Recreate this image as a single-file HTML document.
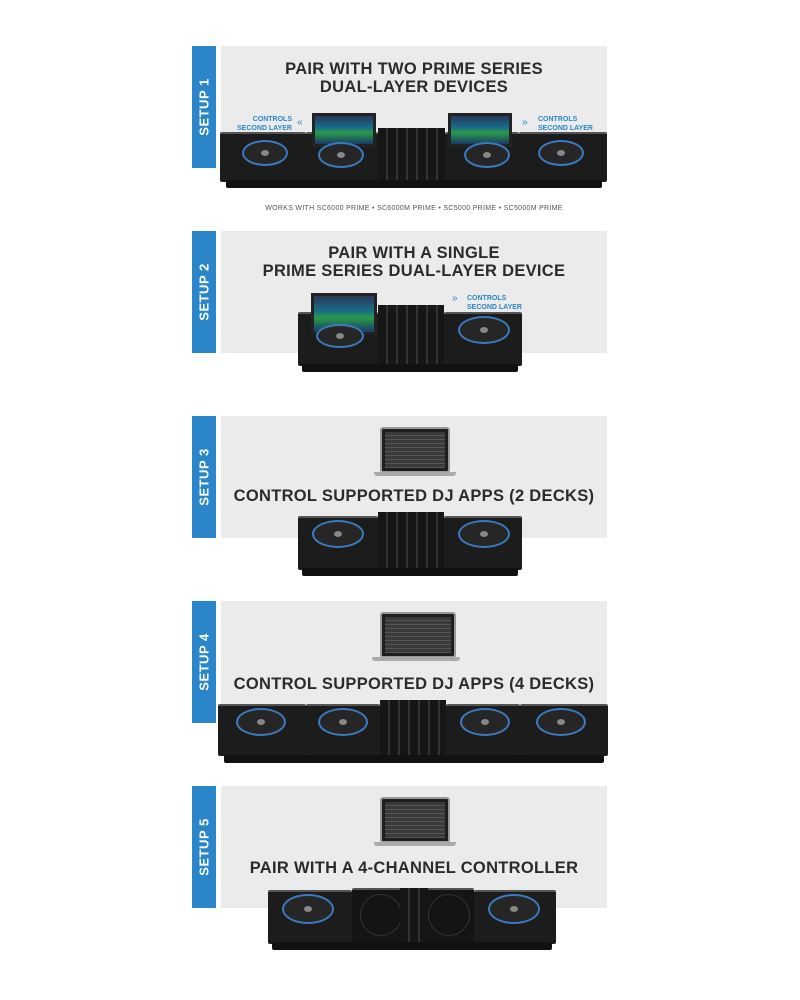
<!DOCTYPE html>
<html><head><style>
body{margin:0;width:800px;height:1000px;background:#fff;position:relative;overflow:hidden;font-family:"Liberation Sans",Arial,sans-serif}
.a{position:absolute}
.tab{position:absolute;left:192px;width:24px;height:122px;background:#2a86c8}
.tab span{position:absolute;left:50%;top:50%;transform:translate(-50%,-50%) rotate(-90deg);color:#fff;font-weight:bold;font-size:13px;white-space:nowrap;letter-spacing:.5px}
.pan{position:absolute;left:221px;width:386px;height:122px;background:#ebebeb}
.t{position:absolute;left:221px;width:386px;text-align:center;font-weight:bold;font-size:16.5px;color:#2b2b2b;line-height:18px;letter-spacing:.3px}
.dk{position:absolute;background:#1c1c1c;border-top:2px solid #555;border-radius:2px}
.pl{position:absolute;border-radius:50%;background:#262626;border:2px solid #3a7ac0;box-sizing:border-box}
.pl::after{content:"";position:absolute;left:50%;top:50%;width:8px;height:6px;margin:-3px 0 0 -4px;border-radius:50%;background:#888}
.ft{position:absolute;background:#111;height:8px;border-radius:2px}
.sc{position:absolute;background:linear-gradient(#2a3a5a,#1a6a8a 40%,#2a9a4a 60%,#1a3a6a);border:3px solid #222}
.mx{position:absolute;background:#161616;background-image:repeating-linear-gradient(90deg,#161616 0 8px,#333 8px 10px)}
.lap{position:absolute;background:#1e1e1e;border:2px solid #999;border-radius:3px}
.lap i{position:absolute;left:3px;right:3px;top:3px;bottom:3px;background:repeating-linear-gradient(#3a3a3a 0 3px,#555 3px 4px)}
.lb{position:absolute;background:#aaa;height:4px;border-radius:0 0 3px 3px}
.ctl{position:absolute;color:#2a86c8;font-size:7px;font-weight:bold;line-height:9px;white-space:nowrap}
</style></head><body>

<!-- SETUP 1 -->
<div class="tab" style="top:46px"><span>SETUP 1</span></div>
<div class="pan" style="top:46px"></div>
<div class="t" style="top:60px">PAIR WITH TWO PRIME SERIES<br>DUAL-LAYER DEVICES</div>
<div class="ctl" style="left:232px;top:115px;text-align:right;width:60px">CONTROLS<br>SECOND LAYER</div>
<div class="a" style="left:297px;top:117px;color:#2a86c8;font-size:10px">«</div>
<div class="a" style="left:522px;top:117px;color:#2a86c8;font-size:10px">»</div>
<div class="ctl" style="left:538px;top:115px">CONTROLS<br>SECOND LAYER</div>
<div class="dk" style="left:220px;top:132px;width:86px;height:48px"></div>
<div class="pl" style="left:242px;top:140px;width:46px;height:26px"></div>
<div class="dk" style="left:306px;top:132px;width:72px;height:48px"></div>
<div class="sc" style="left:312px;top:113px;width:58px;height:28px"></div>
<div class="pl" style="left:318px;top:142px;width:46px;height:26px"></div>
<div class="mx" style="left:378px;top:128px;width:67px;height:54px"></div>
<div class="dk" style="left:445px;top:132px;width:74px;height:48px"></div>
<div class="sc" style="left:448px;top:113px;width:58px;height:28px"></div>
<div class="pl" style="left:464px;top:142px;width:46px;height:26px"></div>
<div class="dk" style="left:519px;top:132px;width:88px;height:48px"></div>
<div class="pl" style="left:538px;top:140px;width:46px;height:26px"></div>
<div class="ft" style="left:226px;top:180px;width:376px"></div>
<div class="a" style="left:221px;top:205px;width:386px;text-align:center;font-size:7px;color:#555;letter-spacing:.3px">WORKS WITH SC6000 PRIME • SC6000M PRIME • SC5000 PRIME • SC5000M PRIME</div>

<!-- SETUP 2 -->
<div class="tab" style="top:231px"><span>SETUP 2</span></div>
<div class="pan" style="top:231px"></div>
<div class="t" style="top:244px">PAIR WITH A SINGLE<br>PRIME SERIES DUAL-LAYER DEVICE</div>
<div class="a" style="left:452px;top:293px;color:#2a86c8;font-size:10px">»</div>
<div class="ctl" style="left:467px;top:294px">CONTROLS<br>SECOND LAYER</div>
<div class="dk" style="left:298px;top:312px;width:80px;height:52px"></div>
<div class="sc" style="left:311px;top:293px;width:60px;height:36px"></div>
<div class="pl" style="left:316px;top:324px;width:48px;height:24px"></div>
<div class="mx" style="left:378px;top:305px;width:66px;height:60px"></div>
<div class="dk" style="left:444px;top:312px;width:78px;height:52px"></div>
<div class="pl" style="left:458px;top:316px;width:52px;height:28px"></div>
<div class="ft" style="left:302px;top:364px;width:216px"></div>

<!-- SETUP 3 -->
<div class="tab" style="top:416px"><span>SETUP 3</span></div>
<div class="pan" style="top:416px"></div>
<div class="lap" style="left:380px;top:427px;width:66px;height:42px"><i></i></div>
<div class="lb" style="left:374px;top:472px;width:82px"></div>
<div class="t" style="top:487px">CONTROL SUPPORTED DJ APPS (2 DECKS)</div>
<div class="dk" style="left:298px;top:516px;width:80px;height:52px"></div>
<div class="pl" style="left:312px;top:520px;width:52px;height:28px"></div>
<div class="mx" style="left:378px;top:512px;width:66px;height:60px"></div>
<div class="dk" style="left:444px;top:516px;width:78px;height:52px"></div>
<div class="pl" style="left:458px;top:520px;width:52px;height:28px"></div>
<div class="ft" style="left:302px;top:568px;width:216px"></div>

<!-- SETUP 4 -->
<div class="tab" style="top:601px"><span>SETUP 4</span></div>
<div class="pan" style="top:601px"></div>
<div class="lap" style="left:380px;top:612px;width:72px;height:42px"><i></i></div>
<div class="lb" style="left:372px;top:657px;width:88px"></div>
<div class="t" style="top:675px">CONTROL SUPPORTED DJ APPS (4 DECKS)</div>
<div class="dk" style="left:218px;top:704px;width:88px;height:50px"></div>
<div class="pl" style="left:236px;top:708px;width:50px;height:28px"></div>
<div class="dk" style="left:306px;top:704px;width:74px;height:50px"></div>
<div class="pl" style="left:318px;top:708px;width:50px;height:28px"></div>
<div class="mx" style="left:380px;top:700px;width:66px;height:58px"></div>
<div class="dk" style="left:446px;top:704px;width:74px;height:50px"></div>
<div class="pl" style="left:460px;top:708px;width:50px;height:28px"></div>
<div class="dk" style="left:520px;top:704px;width:88px;height:50px"></div>
<div class="pl" style="left:536px;top:708px;width:50px;height:28px"></div>
<div class="ft" style="left:224px;top:755px;width:380px"></div>

<!-- SETUP 5 -->
<div class="tab" style="top:786px"><span>SETUP 5</span></div>
<div class="pan" style="top:786px"></div>
<div class="lap" style="left:380px;top:797px;width:66px;height:42px"><i></i></div>
<div class="lb" style="left:374px;top:842px;width:82px"></div>
<div class="t" style="top:859px">PAIR WITH A 4-CHANNEL CONTROLLER</div>
<div class="dk" style="left:268px;top:890px;width:84px;height:52px"></div>
<div class="pl" style="left:282px;top:894px;width:52px;height:30px"></div>
<div class="dk" style="left:352px;top:888px;width:122px;height:56px;background:#141414"></div>
<div class="a" style="left:360px;top:894px;width:40px;height:40px;border-radius:50%;border:1px solid #333"></div>
<div class="a" style="left:428px;top:894px;width:40px;height:40px;border-radius:50%;border:1px solid #333"></div>
<div class="mx" style="left:400px;top:888px;width:28px;height:56px"></div>
<div class="dk" style="left:474px;top:890px;width:82px;height:52px"></div>
<div class="pl" style="left:488px;top:894px;width:52px;height:30px"></div>
<div class="ft" style="left:272px;top:942px;width:280px"></div>
</body></html>
